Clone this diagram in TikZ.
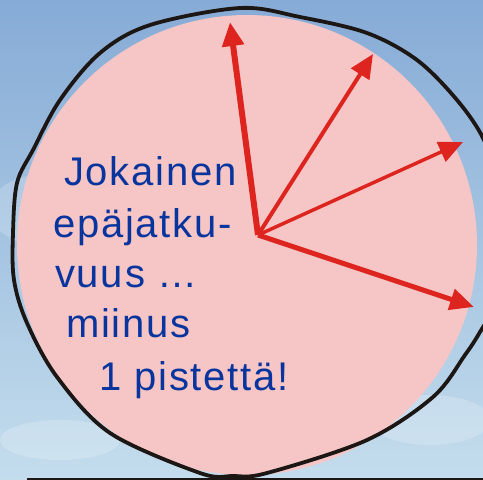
\documentclass[tikz,border=0pt]{standalone}
\usepackage{fontspec}
\setmainfont{Liberation Sans}[LetterSpace=4.5]
\usetikzlibrary{arrows.meta}
\definecolor{skytop}{RGB}{134,171,214}
\definecolor{skybot}{RGB}{196,221,237}
\definecolor{pinkfill}{RGB}{246,198,198}
\definecolor{arrowred}{RGB}{221,36,30}
\definecolor{textblue}{RGB}{8,52,158}
\definecolor{outline}{RGB}{28,22,20}
\tikzset{
  vec/.style={draw=arrowred, -{Triangle[length=24pt,width=21pt]}},
  txt/.style={inner sep=0pt, anchor=base west, text=textblue, font=\fontsize{40}{48}\selectfont},
  cloud/.style={fill=white, opacity=0.2}
}
\begin{document}
\begin{tikzpicture}[x=1pt,y=-1pt]
\useasboundingbox (0,0) rectangle (483,480);
% sky
\shade[top color=skytop, bottom color=skybot] (0,0) rectangle (483,480);
\fill[cloud] (40,210) ellipse[x radius=50pt, y radius=35pt];
\fill[cloud] (430,420) ellipse[x radius=60pt, y radius=25pt];
\fill[cloud] (60,440) ellipse[x radius=60pt, y radius=20pt];
% pink disc
\fill[pinkfill] (247,245) circle[radius=230pt];
% outline
\draw[outline, line width=3.8pt] plot[smooth cycle, tension=0.55] coordinates {
 (240,8) (300,17) (367,33) (417,60) (457,100) (484,140) (500,190) (506,245) (497,300) (480,332)
 (465,355) (433,397) (367,440) (267,473) (233,476) (200,473) (110,433) (57,377)
 (27,323) (14,280) (13,233) (17,183) (33,150) (60,100) (100,53) (150,25)};
\draw[outline, line width=2pt] (27,478.5) -- (483,478.5);
% arrows
\coordinate (o) at (258,235);
\coordinate (t1) at (230,22);
\coordinate (t2) at (373,54);
\coordinate (t3) at (463,142);
\coordinate (t4) at (474,307);
\draw[vec, line width=6pt] (o) -- (t1);
\draw[vec, line width=4pt] (o) -- (t2);
\draw[vec, line width=3.5pt] (o) -- (t3);
\draw[vec, line width=5pt] (o) -- (t4);
% text
\node[txt] (l1) at (64,185) {Jokainen};
\node[txt] (l2) at (53,237) {epäjatku-};
\node[txt] (l3) at (55,287) {vuus …};
\node[txt] (l4) at (66,337) {miinus};
\node[txt] (l5) at (99,390) {1 pistettä!};
\end{tikzpicture}
\end{document}
